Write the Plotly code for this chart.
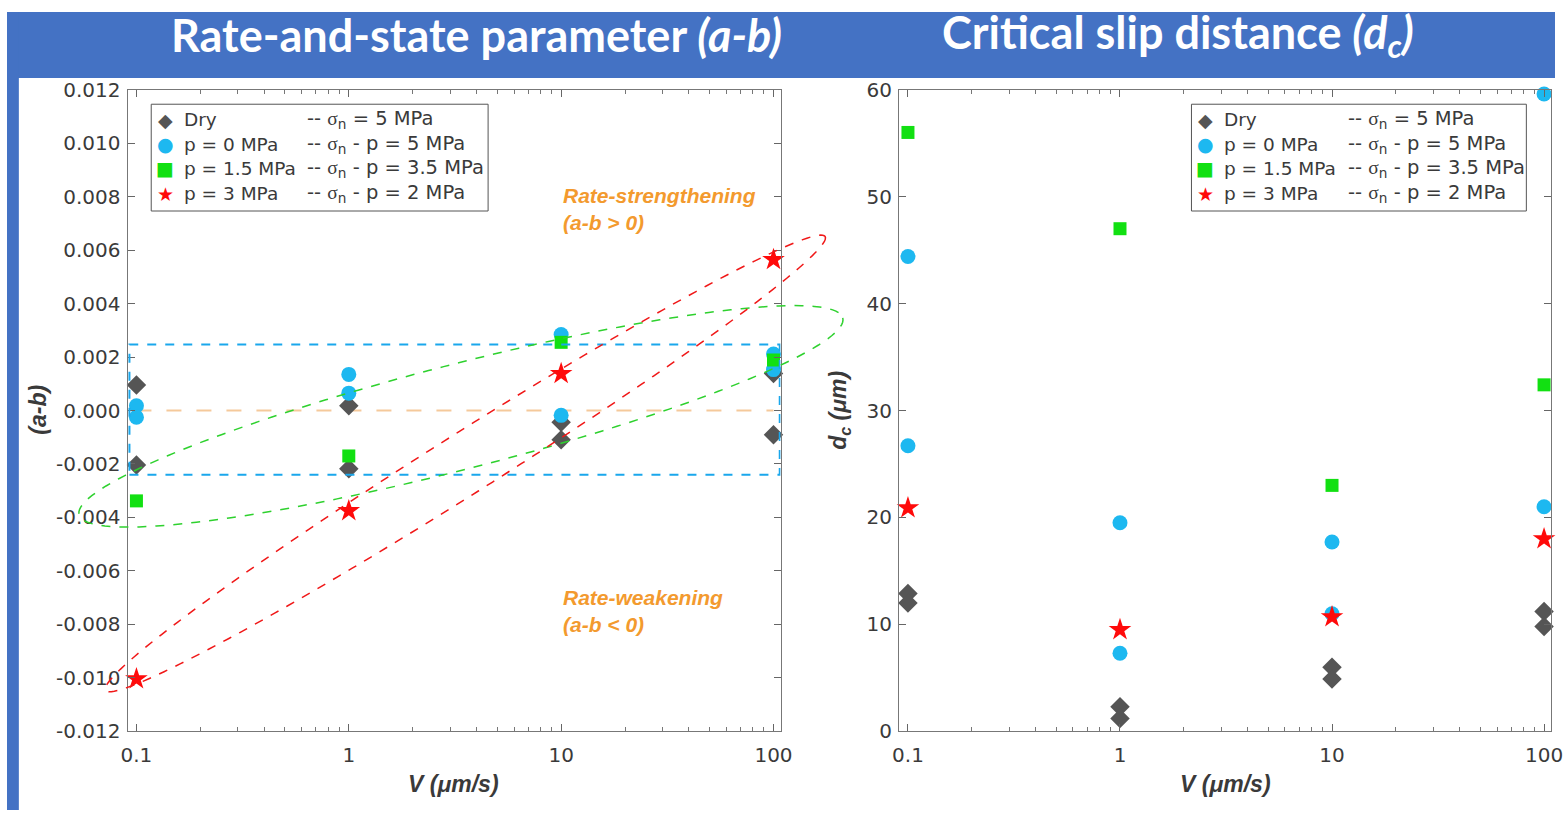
import numpy as np
import plotly.graph_objects as go

W, H = 1567, 822

# ---------------- data ----------------
# sliding velocities (um/s) for each measurement
v_dry = [0.1, 0.1, 1, 1, 10, 10, 100, 100]
v_p0 = [0.1, 0.1, 1, 1, 10, 10, 100, 100]
v_p15 = [0.1, 1, 10, 100]
v_p3 = [0.1, 1, 10, 100]

# rate-and-state parameter (a-b)
ab_dry = [0.00095, -0.00204, 0.00018, -0.00218, -0.00044, -0.00109, 0.00138, -0.00091]
ab_p0 = [0.00018, -0.00025, 0.00135, 0.00065, 0.00284, -0.00018, 0.00211, 0.00153]
ab_p15 = [-0.00338, -0.00170, 0.00255, 0.00189]
ab_p3 = [-0.01004, -0.00375, 0.00138, 0.00564]

# critical slip distance dc (um)
dc_dry = [12.9, 12.0, 2.3, 1.2, 6.0, 4.9, 11.2, 9.8]
dc_p0 = [44.4, 26.7, 19.5, 7.3, 17.7, 11.0, 59.6, 21.0]
dc_p15 = [56.0, 47.0, 23.0, 32.4]
dc_p3 = [20.9, 9.5, 10.7, 18.0]

x_tickvals = [0.1, 1, 10, 100]
x_ticktext = ["0.1", "1", "10", "100"]
x_minor = [k * 10.0 ** e for e in (-2, -1, 0, 1, 2) for k in range(2, 10)]
ab_ticks = [0.012, 0.010, 0.008, 0.006, 0.004, 0.002, 0.0, -0.002, -0.004,
            -0.006, -0.008, -0.010, -0.012]
dc_ticks = [0, 10, 20, 30, 40, 50, 60]

legend_labels = ["Dry", "p = 0 MPa", "p = 1.5 MPa", "p = 3 MPa"]
legend_notes = ["= 5 MPa", "- p = 5 MPa", "- p = 3.5 MPa", "- p = 2 MPa"]

# ---------------- styling ----------------
BLUE_BAR = "#4472C4"
C_DRY, C_P0, C_P15, C_P3 = "#555555", "#1DB8F0", "#12E012", "#FF0A0A"
ORANGE = "#F39A2E"
FONT = "DejaVu Sans"
TXT = "#3a3a3a"

series = [
    ("Dry", v_dry, ab_dry, dc_dry, "diamond", C_DRY, 15),
    ("p = 0 MPa", v_p0, ab_p0, dc_p0, "circle", C_P0, 15),
    ("p = 1.5 MPa", v_p15, ab_p15, dc_p15, "square", C_P15, 13),
    ("p = 3 MPa", v_p3, ab_p3, dc_p3, "star", C_P3, 17),
]


def px(x, y):
    """pixel position -> paper coordinates"""
    return x / W, 1 - y / H


fig = go.Figure()
for name, vx, ab, dc, sym, col, sz in series:
    fig.add_trace(go.Scatter(x=vx, y=ab, mode="markers", name=name, cliponaxis=False,
                             marker=dict(symbol=sym, color=col, size=sz, line=dict(width=0)),
                             xaxis="x", yaxis="y"))
    fig.add_trace(go.Scatter(x=vx, y=dc, mode="markers", name=name, cliponaxis=False,
                             marker=dict(symbol=sym, color=col, size=sz, line=dict(width=0)),
                             xaxis="x2", yaxis="y2"))

# axis frames
x0l, x1l = px(122, 0)[0], px(783, 0)[0]
x0r, x1r = px(903, 0)[0], px(1563, 0)[0]
yb, yt = px(0, 741)[1], px(0, 80)[1]

common_x = dict(type="log", range=[-1.042, 2.033], tickvals=x_tickvals, ticktext=x_ticktext,
                ticks="inside", ticklen=7, tickcolor="#666", mirror="ticks", showline=True,
                linecolor="#777", linewidth=1, showgrid=False, zeroline=False,
                ticklabelstandoff=6,
                minor=dict(ticks="inside", ticklen=4, tickcolor="#777", showgrid=False,
                           tickmode="array", tickvals=x_minor),
                tickfont=dict(family=FONT, size=20, color=TXT))
common_y = dict(ticks="inside", ticklen=7, tickcolor="#666", mirror="ticks", showline=True,
                linecolor="#777", linewidth=1, showgrid=False, zeroline=False,
                ticklabelstandoff=2,
                tickfont=dict(family=FONT, size=20, color=TXT))

fig.update_layout(
    width=W, height=H, margin=dict(l=0, r=0, t=0, b=0),
    paper_bgcolor="white", plot_bgcolor="white", showlegend=False,
    xaxis=dict(domain=[x0l, x1l], anchor="y", **common_x),
    yaxis=dict(domain=[yb, yt], anchor="x", range=[-0.012, 0.012], tickvals=ab_ticks,
               ticktext=[f"{t:.3f}" for t in ab_ticks], **common_y),
    xaxis2=dict(domain=[x0r, x1r], anchor="y2", **common_x),
    yaxis2=dict(domain=[yb, yt], anchor="x2", range=[0, 60], tickvals=dc_ticks, **common_y),
)

shapes = []
# title bar and left strip
shapes.append(dict(type="rect", xref="paper", yref="paper", x0=0, x1=1, y0=px(0, 68)[1], y1=1,
                   fillcolor=BLUE_BAR, line=dict(width=0), layer="below"))
shapes.append(dict(type="rect", xref="paper", yref="paper", x0=0, x1=px(12, 0)[0], y0=0, y1=1,
                   fillcolor=BLUE_BAR, line=dict(width=0), layer="below"))

# zero reference line
shapes.append(dict(type="line", xref="x", yref="y", x0=0.1, x1=100, y0=0, y1=0, layer="below",
                   line=dict(color="#F5C99B", width=2, dash="longdash")))
# band around (a-b) ~ 0
shapes.append(dict(type="rect", xref="x", yref="y", x0=0.0927, x1=107, y0=-0.0024, y1=0.00247,
                   line=dict(color="#1AA7EC", width=2, dash="dash")))


def ellipse_path(cx, cy, a, b, ang_deg, n=160):
    t = np.linspace(0, 2 * np.pi, n)
    th = np.radians(ang_deg)
    xs = cx + a * np.cos(t) * np.cos(th) - b * np.sin(t) * np.sin(th)
    ys = cy + a * np.cos(t) * np.sin(th) + b * np.sin(t) * np.cos(th)
    pts = [px(x, y) for x, y in zip(xs, ys)]
    return "M " + " L ".join(f"{p[0]:.5f},{p[1]:.5f}" for p in pts) + " Z"


shapes.append(dict(type="path", xref="paper", yref="paper",
                   path=ellipse_path(459.5, 416.5, 399.6, 54, -14.7),
                   line=dict(color="#2ED12E", width=1.5, dash="dash")))
shapes.append(dict(type="path", xref="paper", yref="paper",
                   path=ellipse_path(464, 465, 432.7, 31, -32.7),
                   line=dict(color="#F01818", width=1.5, dash="dash")))

# legend frames
for lx0, lx1 in [(146, 487), (1199, 1538)]:
    p0, p1 = px(lx0, 95), px(lx1, 205)
    shapes.append(dict(type="rect", xref="paper", yref="paper", x0=p0[0], x1=p1[0],
                       y0=p1[1], y1=p0[1], fillcolor="white",
                       line=dict(color="#555", width=1)))
fig.update_layout(shapes=shapes)

ann = []
# panel titles
for cx, txt in [(475, "<b>Rate-and-state parameter <i>(a-b)</i></b>"),
                (1185, "<b>Critical slip distance <i>(d<sub>c</sub>)</i></b>")]:
    ann.append(dict(xref="paper", yref="paper", x=px(cx, 0)[0], y=px(0, 24)[1],
                    xanchor="center", yanchor="middle", showarrow=False, text=txt,
                    font=dict(family="Lato", size=45, color="white")))

# axis titles
ttl = dict(family="Liberation Sans", size=23, color=TXT)
for cx in (452, 1233):
    ann.append(dict(xref="paper", yref="paper", x=px(cx, 0)[0], y=px(0, 795)[1],
                    xanchor="center", yanchor="middle", showarrow=False,
                    text="<b><i>V (μm/s)</i></b>", font=ttl))
ann.append(dict(xref="paper", yref="paper", x=px(31, 0)[0], y=px(0, 410)[1], showarrow=False,
                xanchor="center", yanchor="middle", textangle=-90,
                text="<b><i>(a-b)</i></b>", font=ttl))
ann.append(dict(xref="paper", yref="paper", x=px(842, 0)[0], y=px(0, 410)[1], showarrow=False,
                xanchor="center", yanchor="middle", textangle=-90,
                text="<b><i>d<sub>c</sub> (μm)</i></b>", font=ttl))

# regime labels (annotation x on a log axis is given as log10)
reg = dict(family="Liberation Sans", size=21, color=ORANGE)
ann.append(dict(xref="x", yref="y", x=1, y=0.00752, xanchor="left", yanchor="middle",
                showarrow=False, align="left", font=reg,
                text="<b><i>Rate-strengthening<br>(a-b > 0)</i></b>"))
ann.append(dict(xref="x", yref="y", x=1, y=-0.00749, xanchor="left", yanchor="middle",
                showarrow=False, align="left", font=reg,
                text="<b><i>Rate-weakening<br>(a-b < 0)</i></b>"))

# legend contents
glyphs = ["◆", "●", "■", "★"]
gcols = [C_DRY, C_P0, C_P15, C_P3]
rows = [111, 136, 161, 187]
for lx in [146, 1199]:
    for g, gc, lab, note, ry in zip(glyphs, gcols, legend_labels, legend_notes, rows):
        ann.append(dict(xref="paper", yref="paper", x=px(lx + 14, 0)[0], y=px(0, ry)[1],
                        xanchor="center", yanchor="middle", showarrow=False, text=g,
                        font=dict(family="DejaVu Sans", size=19, color=gc)))
        ann.append(dict(xref="paper", yref="paper", x=px(lx + 31, 0)[0], y=px(0, ry)[1],
                        xanchor="left", yanchor="middle", showarrow=False, text=lab,
                        font=dict(family=FONT, size=18.5, color=TXT)))
        ann.append(dict(xref="paper", yref="paper", x=px(lx + 156, 0)[0], y=px(0, ry)[1],
                        xanchor="left", yanchor="middle", showarrow=False,
                        text="-- <span style='font-family:Liberation Serif'>σ</span>"
                             "<sub>n</sub> " + note,
                        font=dict(family=FONT, size=19.5, color=TXT)))
fig.update_layout(annotations=ann)

fig.write_html("out.html")
